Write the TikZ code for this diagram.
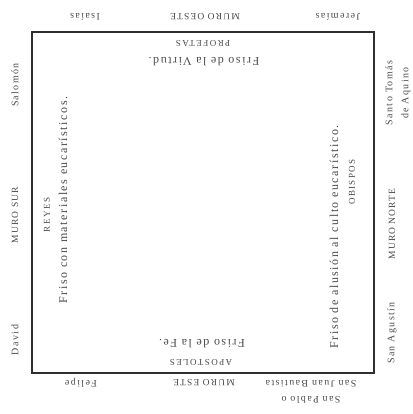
\documentclass[tikz,border=0pt]{standalone}
\usepackage{fontspec}
\setmainfont{Liberation Serif}
\definecolor{ink}{HTML}{4A4A4A}
\definecolor{wallc}{HTML}{2E2E2E}
\begin{document}
\begin{tikzpicture}[x=1pt,y=-1pt,
  outer/.style={text=ink, inner sep=0pt, font=\fontsize{10}{16}\selectfont\addfontfeature{LetterSpace=14}},
  outercap/.style={text=ink, inner sep=0pt, font=\fontsize{9.5}{11}\selectfont\addfontfeature{LetterSpace=12}},
  capin/.style={text=ink, inner sep=0pt, font=\fontsize{9}{10}\selectfont\addfontfeature{LetterSpace=16}},
  friso/.style={text=ink, inner sep=0pt, font=\fontsize{12}{14}\selectfont\addfontfeature{LetterSpace=13}},
  up/.style={rotate=180},
  side/.style={rotate=90}]
\useasboundingbox (0,0) rectangle (412,414);
\node[draw=wallc, line width=1.9pt, minimum width=342pt, minimum height=341pt, inner sep=0pt] (sala) at (203,202.5) {};
% Muro Oeste (top)
\node[outer, up] (isaias) at (85,17) {Isaías};
\node[outercap, up] (oeste) at (205,17) {MURO OESTE};
\node[outer, up] (jeremias) at (338,17) {Jeremías};
\node[capin, up] (profetas) at (203,43) {PROFETAS};
\node[friso, up] (virtud) at (204,62) {Friso de la Virtud.};
% Muro Este (bottom)
\node[capin, up] (apostoles) at (201,362) {APOSTOLES};
\node[friso, up] (fe) at (202,344) {Friso de la Fe.};
\node[outer, up] (felipe) at (81,383) {Felipe};
\node[outercap, up] (este) at (204,383) {MURO ESTE};
\node[outer, up, align=center] (sanjuan) at (311,391.5) {San Pablo o\\San Juan Bautista};
% Muro Sur (left)
\node[outer, side] (salomon) at (15,85) {Salomón};
\node[outercap, side] (sur) at (15,215) {MURO SUR};
\node[outer, side] (david) at (15,340) {David};
\node[capin, side] (reyes) at (47,215) {REYES};
\node[friso, side] (eucar) at (63,200) {Friso con materiales eucarísticos.};
% Muro Norte (right)
\node[outer, side, align=center] (tomas) at (398,93) {Santo Tomás\\de Aquino};
\node[outercap, side] (norte) at (392,224) {MURO NORTE};
\node[outer, side] (agustin) at (392,333) {San Agustín};
\node[capin, side] (obispos) at (352,182) {OBISPOS};
\node[friso, side] (culto) at (334,237) {Friso de alusión al culto eucarístico.};
\end{tikzpicture}
\end{document}
